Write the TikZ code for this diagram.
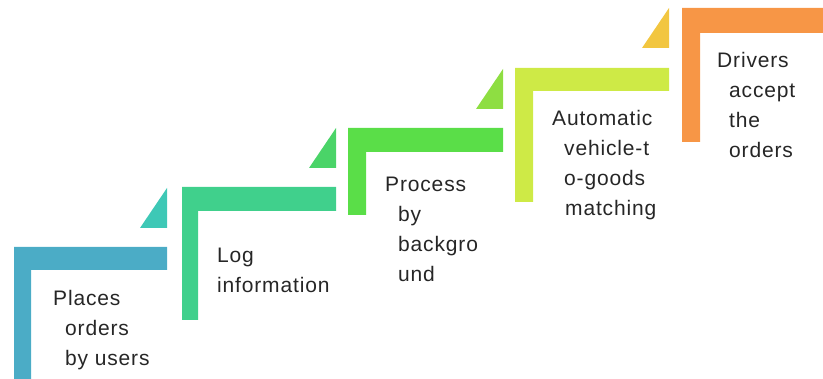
\documentclass[tikz,border=0pt]{standalone}
\usepackage{fontspec}
\setmainfont{Liberation Sans}[LetterSpace=4]
\usepackage{tikz}

\definecolor{stepa}{RGB}{75,172,198}
\definecolor{stepb}{RGB}{64,208,140}
\definecolor{stepc}{RGB}{90,222,72}
\definecolor{stepd}{RGB}{206,234,70}
\definecolor{stepe}{RGB}{247,150,70}
\definecolor{tria}{RGB}{62,200,182}
\definecolor{trib}{RGB}{74,212,104}
\definecolor{tric}{RGB}{142,222,66}
\definecolor{trid}{RGB}{242,198,64}

% anchored at the baseline of the last line
\tikzset{
steptext/.style={anchor=base west, inner sep=0pt, align=left,
    font=\fontsize{21}{30}\selectfont, text=black!85}}

\begin{document}
\begin{tikzpicture}[x=1pt,y=-1pt]

                \useasboundingbox (0,0) rectangle (823,379);
                \clip (0,0) rectangle (823,379);

                % the stairs
                \fill[stepa] (14,247) -- (167,247) -- (167,270) -- (31,270) -- (31,390) -- (14,390) -- cycle;
                \fill[stepb] (182,187) -- (336,187) -- (336,211) -- (198,211) -- (198,320) -- (182,320) -- cycle;
                \fill[stepc] (348,128) -- (503,128) -- (503,152) -- (366,152) -- (366,215) -- (348,215) -- cycle;
                \fill[stepd] (515,68) -- (669,68) -- (669,91) -- (533,91) -- (533,202) -- (515,202) -- cycle;
                \fill[stepe] (682,8) -- (840,8) -- (840,33) -- (700,33) -- (700,142) -- (682,142) -- cycle;

                % small corner triangles
                \fill[tria] (140,228) -- (167,228) -- (167,188) -- cycle;
                \fill[trib] (309,168) -- (336,168) -- (336,128) -- cycle;
                \fill[tric] (476,109) -- (503,109) -- (503,69) -- cycle;
                \fill[trid] (642,48) -- (669,48) -- (669,8) -- cycle;

                \node[steptext] (A) at (53,366) {Places\\\hspace*{12pt}orders\\\hspace*{12pt}by users};
                \node[steptext] (B) at (217,293) {Log\\information};
                \node[steptext] (C) at (385,282) {Process\\\hspace*{13pt}by\\\hspace*{13pt}backgro\\\hspace*{13pt}und};
                \node[steptext] (D) at (552,216) {Automatic\\\hspace*{12pt}vehicle-t\\\hspace*{12pt}o-goods\\\hspace*{13pt}matching};
                \node[steptext] (E) at (717,158) {Drivers\\\hspace*{12pt}accept\\\hspace*{12pt}the\\\hspace*{12pt}orders};

            \end{tikzpicture}
\end{document}
